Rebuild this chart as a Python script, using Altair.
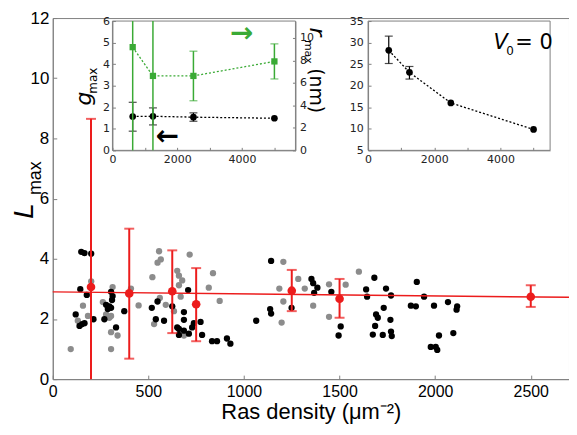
import altair as alt
import pandas as pd

# ---------------- data ----------------
gray_x = [94, 201, 158, 184, 131, 313, 262, 279, 296, 305, 305, 339, 305, 409, 449,
          556, 565, 548, 521, 530, 591, 560, 716, 651, 660, 677, 660, 669, 634, 838,
          816, 873, 686, 1206, 1185, 1206, 1197, 1284, 1318, 1362, 1445, 1445, 1532, 1601]
gray_y = [1.00, 3.25, 2.44, 2.10, 1.94, 3.06, 2.56, 2.15, 2.04, 2.10, 1.56, 1.45, 1.00, 3.01, 2.45,
          4.25, 3.98, 3.87, 3.39, 1.83, 2.47, 2.70, 4.14, 3.60, 3.44, 3.28, 3.12, 2.74, 2.26, 3.52,
          3.04, 2.60, 1.45, 3.90, 3.01, 2.58, 1.88, 3.33, 3.01, 2.44, 3.15, 2.07, 3.14, 3.57]

black_x = [149, 166, 201, 144, 178, 120, 154, 140, 166, 213, 305, 313, 310, 279, 296, 305, 288,
           270, 331, 374, 518, 548, 539, 582, 625, 651, 708, 686, 686, 773, 738, 729, 660, 686,
           712, 660, 781, 833, 859, 911, 929, 1142, 1064, 1137, 1142, 1249, 1353, 1362, 1384,
           1367, 1457, 1506, 1495, 1682, 1639, 1644, 1743, 1769, 1731, 1691, 1700, 1766, 1686,
           1674, 1726, 1769, 1773, 1904, 1942, 1873, 1899, 1994, 2067, 2115, 2112, 2020, 2095,
           1977, 2003, 2011]
black_y = [4.23, 4.19, 4.17, 2.99, 2.80, 2.15, 1.83, 1.77, 1.86, 1.99, 2.90, 2.76, 2.63, 2.47, 2.42, 2.37, 2.33,
           1.99, 1.72, 2.26, 2.37, 2.58, 1.99, 1.94, 2.42, 1.72, 2.96, 2.23, 1.97, 1.90, 1.86, 1.72, 1.67, 1.61,
           1.51, 1.47, 1.47, 1.26, 1.26, 1.35, 1.18, 3.93, 1.94, 2.33, 2.18, 2.37, 3.33, 3.19, 3.04,
           2.87, 2.90, 1.75, 1.45, 3.37, 2.98, 2.74, 3.01, 2.78, 2.37, 2.15, 2.04, 1.97, 1.77,
           1.48, 1.47, 1.58, 1.43, 3.23, 2.74, 2.44, 2.42, 2.44, 2.56, 2.42, 2.31, 1.45, 1.53,
           1.07, 1.07, 0.97]

red_x = [200, 400, 625, 750, 1250, 1500, 2500]
red_y = [3.06, 2.85, 2.92, 2.49, 2.94, 2.67, 2.74]
red_lo = [0.0, 0.68, 1.53, 1.26, 2.26, 2.04, 2.40]
red_hi = [8.65, 5.00, 4.28, 3.69, 3.63, 3.33, 3.12]

fit_x = [0, 2700]
fit_y = [2.90, 2.72]

main_x_dom = [0, 2700]
main_y_dom = [0, 12]
main_x_ticks = [0, 500, 1000, 1500, 2000, 2500]
main_y_ticks = [0, 2, 4, 6, 8, 10, 12]

# inset 1 (g_max left axis, r_max right axis)
ins_x = [625, 1250, 2500, 5000]
g_y = [1.57, 1.58, 1.54, 1.49]
g_lo = [0.89, 1.18, 1.35, 1.49]
g_hi = [2.23, 1.97, 1.74, 1.49]
r_y = [9.18, 6.62, 6.62, 7.91]
r_lo = [0.0, 0.0, 4.41, 6.35]
r_hi = [11.5, 11.5, 8.82, 9.47]
i1_x_dom = [0, 5650]
i1_l_dom = [0, 6]
i1_r_dom = [0, 11.5]
i1_x_labels = [0, 2000, 4000]
i1_x_ticks = [0, 1000, 2000, 3000, 4000, 5000]
i1_l_ticks = [0, 1, 2, 3, 4, 5, 6]
i1_r_ticks = [0, 2, 4, 6, 8, 10]

# inset 2 (V0 = 0)
v_y = [28.2, 23.1, 16.0, 9.85]
v_lo = [25.15, 21.54, 16.0, 9.85]
v_hi = [31.5, 24.46, 16.0, 9.85]
i2_x_dom = [0, 5500]
i2_y_dom = [5, 35]
i2_x_labels = [0, 2000, 4000]
i2_x_ticks = [0, 1000, 2000, 3000, 4000, 5000]
i2_y_ticks = [5, 10, 15, 20, 25, 30, 35]

x_title = "Ras density (\u03bcm\u207b\u00b2)"

# ---------------- styling ----------------
W, H = 519, 363
GRAY = "#808080"
RED = "#ec1c1c"
GREEN = "#3aaa35"
PT_GRAY = "#8c8c8c"

I1_XR = [60, 244]
I2_XR = [317, 500]
IN_YR = [133, 3]


def sc(dom, rng=None):
    if rng is None:
        return alt.Scale(domain=dom, nice=False, zero=False)
    return alt.Scale(domain=dom, range=rng, nice=False, zero=False)


MX, MY = sc(main_x_dom), sc(main_y_dom)
I1X, I1L, I1R = sc(i1_x_dom, I1_XR), sc(i1_l_dom, IN_YR), sc(i1_r_dom, IN_YR)
I2X, I2Y = sc(i2_x_dom, I2_XR), sc(i2_y_dom, IN_YR)


def lab_axis(orient, values, offset=0, font="Liberation Sans", size=16, pad=4,
             color="black", title=None, **kw):
    return alt.Axis(orient=orient, values=values, offset=offset, ticks=False, tickSize=0,
                    labelPadding=pad, labelFont=font, labelFontSize=size, labelColor=color,
                    format="d", domain=True, domainColor=GRAY, domainWidth=1, grid=False,
                    labelOverlap=False, labelFlush=False, title=title, **kw)


def tick_axis(orient, values, offset, size=4):
    return alt.Axis(orient=orient, values=values, offset=offset, labels=False, domain=False,
                    ticks=True, tickSize=size, tickColor=GRAY, tickWidth=1, grid=False, title=None)


def txt(s, x, y, size, angle=0, italic=False, font="Liberation Sans", color="black",
        align="center", baseline="alphabetic", weight="normal"):
    kw = dict(fontSize=size, font=font, color=color, align=align, baseline=baseline,
              fontWeight=weight)
    if angle:
        kw["angle"] = angle
    if italic:
        kw["fontStyle"] = "italic"
    return alt.Chart(pd.DataFrame({"t": [s]})).mark_text(**kw).encode(
        x=alt.value(x), y=alt.value(y), text="t:N")


# ---------------- main panel ----------------
gray_df = pd.DataFrame({"x": gray_x, "y": gray_y})
black_df = pd.DataFrame({"x": black_x, "y": black_y})
red_df = pd.DataFrame({"x": red_x, "y": red_y, "lo": red_lo, "hi": red_hi})
fit_df = pd.DataFrame({"x": fit_x, "y": fit_y})

g_scatter = alt.Chart(gray_df).mark_circle(size=40, color=PT_GRAY, opacity=1).encode(
    x=alt.X("x:Q", scale=MX, axis=lab_axis("bottom", main_x_ticks, pad=4,
                                          title=x_title, titleFont="Liberation Sans",
                                          titleFontSize=22, titleFontWeight="normal",
                                          titleColor="black", titlePadding=3)),
    y=alt.Y("y:Q", scale=MY, axis=lab_axis("left", main_y_ticks, pad=4, size=17)),
)
b_scatter = alt.Chart(black_df).mark_circle(size=40, color="black", opacity=1).encode(
    x=alt.X("x:Q", scale=MX, axis=tick_axis("top", main_x_ticks, -H)),
    y=alt.Y("y:Q", scale=MY, axis=tick_axis("right", main_y_ticks, -W)),
)
fit_line = alt.Chart(fit_df).mark_line(color=RED, strokeWidth=1.5).encode(
    x=alt.X("x:Q", scale=MX, axis=None), y=alt.Y("y:Q", scale=MY, axis=None))
red_rules = alt.Chart(red_df).mark_rule(color=RED, strokeWidth=2).encode(
    x=alt.X("x:Q", scale=MX, axis=None), y=alt.Y("lo:Q", scale=MY, axis=None), y2="hi:Q")
red_cap_hi = alt.Chart(red_df).mark_tick(color=RED, orient="horizontal", size=10, thickness=2).encode(
    x=alt.X("x:Q", scale=MX, axis=None), y=alt.Y("hi:Q", scale=MY, axis=None))
red_cap_lo = alt.Chart(red_df[red_df["lo"] > main_y_dom[0]]).mark_tick(
    color=RED, orient="horizontal", size=10, thickness=2).encode(
    x=alt.X("x:Q", scale=MX, axis=None), y=alt.Y("lo:Q", scale=MY, axis=None))
red_pts = alt.Chart(red_df).mark_circle(size=75, color=RED, opacity=1).encode(
    x=alt.X("x:Q", scale=MX, axis=None), y=alt.Y("y:Q", scale=MY, axis=None))

# ---------------- inset 1 ----------------
i1_df = pd.DataFrame({"x": ins_x, "g": g_y, "glo": g_lo, "ghi": g_hi,
                      "r": r_y, "rlo": r_lo, "rhi": r_hi})
i1_frame = alt.Chart(pd.DataFrame({"x0": [i1_x_dom[0]], "x1": [i1_x_dom[1]],
                                   "y0": [i1_l_dom[0]], "y1": [i1_l_dom[1]]})).mark_rect(
    fill="white", fillOpacity=0, stroke=GRAY, strokeWidth=1).encode(
    x=alt.X("x0:Q", scale=I1X, axis=None), x2="x1:Q",
    y=alt.Y("y0:Q", scale=I1L, axis=None), y2="y1:Q")
IF = "DejaVu Sans"
g_line = alt.Chart(i1_df).mark_line(color="black", strokeWidth=1.3, strokeDash=[2, 2]).encode(
    x=alt.X("x:Q", scale=I1X, axis=lab_axis("bottom", i1_x_labels, offset=-(H - IN_YR[0]),
                                           font=IF, size=11, pad=3, color="#222")),
    y=alt.Y("g:Q", scale=I1L, axis=lab_axis("left", i1_l_ticks, offset=-I1_XR[0],
                                           font=IF, size=11, pad=3, color="#222")))
g_pts = alt.Chart(i1_df).mark_circle(size=45, color="black", opacity=1).encode(
    x=alt.X("x:Q", scale=I1X, axis=tick_axis("top", i1_x_ticks, -IN_YR[0], 3)),
    y=alt.Y("g:Q", scale=I1L, axis=tick_axis("right", i1_l_ticks, I1_XR[0] - W, 3)))
g_rules = alt.Chart(i1_df).mark_rule(color="black", strokeWidth=1.2).encode(
    x=alt.X("x:Q", scale=I1X, axis=None), y=alt.Y("glo:Q", scale=I1L, axis=None), y2="ghi:Q")
g_caps_df = i1_df[i1_df["ghi"] > i1_df["g"]]
g_cap_hi = alt.Chart(g_caps_df).mark_tick(color="black", orient="horizontal", size=8, thickness=1.2).encode(
    x=alt.X("x:Q", scale=I1X, axis=None), y=alt.Y("ghi:Q", scale=I1L, axis=None))
g_cap_lo = alt.Chart(g_caps_df).mark_tick(color="black", orient="horizontal", size=8, thickness=1.2).encode(
    x=alt.X("x:Q", scale=I1X, axis=None), y=alt.Y("glo:Q", scale=I1L, axis=None))

r_line = alt.Chart(i1_df).mark_line(color=GREEN, strokeWidth=1.3, strokeDash=[2, 2]).encode(
    x=alt.X("x:Q", scale=I1X, axis=None),
    y=alt.Y("r:Q", scale=I1R, axis=lab_axis("right", i1_r_ticks, offset=I1_XR[1] - W,
                                           font=IF, size=11, pad=4, color="#222")))
r_pts = alt.Chart(i1_df).mark_square(size=40, color=GREEN, opacity=1).encode(
    x=alt.X("x:Q", scale=I1X, axis=None),
    y=alt.Y("r:Q", scale=I1R, axis=tick_axis("left", i1_r_ticks, -I1_XR[1], 3)))
r_rules = alt.Chart(i1_df).mark_rule(color=GREEN, strokeWidth=1.5).encode(
    x=alt.X("x:Q", scale=I1X, axis=None), y=alt.Y("rlo:Q", scale=I1R, axis=None), y2="rhi:Q")
r_caps_df = i1_df[(i1_df["rlo"] > i1_r_dom[0]) & (i1_df["rhi"] < i1_r_dom[1])]
r_cap_hi = alt.Chart(r_caps_df).mark_tick(color=GREEN, orient="horizontal", size=8, thickness=1.2).encode(
    x=alt.X("x:Q", scale=I1X, axis=None), y=alt.Y("rhi:Q", scale=I1R, axis=None))
r_cap_lo = alt.Chart(r_caps_df).mark_tick(color=GREEN, orient="horizontal", size=8, thickness=1.2).encode(
    x=alt.X("x:Q", scale=I1X, axis=None), y=alt.Y("rlo:Q", scale=I1R, axis=None))

# ---------------- inset 2 ----------------
i2_df = pd.DataFrame({"x": ins_x, "v": v_y, "lo": v_lo, "hi": v_hi})
i2_frame = alt.Chart(pd.DataFrame({"x0": [i2_x_dom[0]], "x1": [i2_x_dom[1]],
                                   "y0": [i2_y_dom[0]], "y1": [i2_y_dom[1]]})).mark_rect(
    fill="white", fillOpacity=0, stroke=GRAY, strokeWidth=1).encode(
    x=alt.X("x0:Q", scale=I2X, axis=None), x2="x1:Q",
    y=alt.Y("y0:Q", scale=I2Y, axis=None), y2="y1:Q")
v_line = alt.Chart(i2_df).mark_line(color="black", strokeWidth=1.3, strokeDash=[2, 2]).encode(
    x=alt.X("x:Q", scale=I2X, axis=lab_axis("bottom", i2_x_labels, offset=-(H - IN_YR[0]),
                                           font=IF, size=11, pad=3, color="#222")),
    y=alt.Y("v:Q", scale=I2Y, axis=lab_axis("left", i2_y_ticks, offset=-I2_XR[0],
                                           font=IF, size=11, pad=5, color="#222")))
v_pts = alt.Chart(i2_df).mark_circle(size=45, color="black", opacity=1).encode(
    x=alt.X("x:Q", scale=I2X, axis=tick_axis("top", i2_x_ticks, -IN_YR[0], 3)),
    y=alt.Y("v:Q", scale=I2Y, axis=tick_axis("right", i2_y_ticks, I2_XR[0] - W, 3)))
v_rules = alt.Chart(i2_df).mark_rule(color="black", strokeWidth=1.2).encode(
    x=alt.X("x:Q", scale=I2X, axis=None), y=alt.Y("lo:Q", scale=I2Y, axis=None), y2="hi:Q")
v_caps_df = i2_df[i2_df["hi"] > i2_df["v"]]
v_cap_hi = alt.Chart(v_caps_df).mark_tick(color="black", orient="horizontal", size=8, thickness=1.2).encode(
    x=alt.X("x:Q", scale=I2X, axis=None), y=alt.Y("hi:Q", scale=I2Y, axis=None))
v_cap_lo = alt.Chart(v_caps_df).mark_tick(color="black", orient="horizontal", size=8, thickness=1.2).encode(
    x=alt.X("x:Q", scale=I2X, axis=None), y=alt.Y("lo:Q", scale=I2Y, axis=None))

# ---------------- text annotations ----------------
texts = [
    txt("L", -20, 194, 28, angle=270, italic=True),
    txt("max", -12, 161, 18, angle=270),
    txt("g", 38, 81, 22, angle=270, italic=True, font=IF),
    txt("max", 44, 63, 12, angle=270, font=IF),
    txt("r", 259, 14, 22, angle=90, italic=True, font=IF),
    txt("max", 254, 34, 11, angle=90, font=IF),
    txt("(nm)", 259, 73, 19, angle=90, font=IF),
    txt("V", 443, 31, 21, italic=True, font=IF, align="left"),
    txt("0", 456, 37, 12, font=IF, align="left"),
    txt("= 0", 465, 31, 21, font=IF, align="left"),
    txt("\u2192", 190, 16, 28, font=IF, color=GREEN, baseline="middle", weight="bold"),
    txt("\u2190", 115, 120, 28, font=IF, color="black", baseline="middle", weight="bold"),
]

layers = [g_scatter, b_scatter, fit_line, red_rules, red_cap_hi, red_cap_lo, red_pts,
          i1_frame, g_line, g_rules, g_cap_hi, g_cap_lo, g_pts,
          r_line, r_rules, r_cap_hi, r_cap_lo, r_pts,
          i2_frame, v_line, v_rules, v_cap_hi, v_cap_lo, v_pts] + texts

chart = alt.layer(*layers).resolve_scale(x="independent", y="independent").properties(
    width=W, height=H,
    autosize=alt.AutoSizeParams(type="none"),
    padding={"left": 45, "top": 9, "right": 0, "bottom": 46},
    background="white",
).configure_view(stroke=GRAY, strokeWidth=1).configure_axis(grid=False)

chart.save("out.html", embed_options={"renderer": "svg", "actions": False})
